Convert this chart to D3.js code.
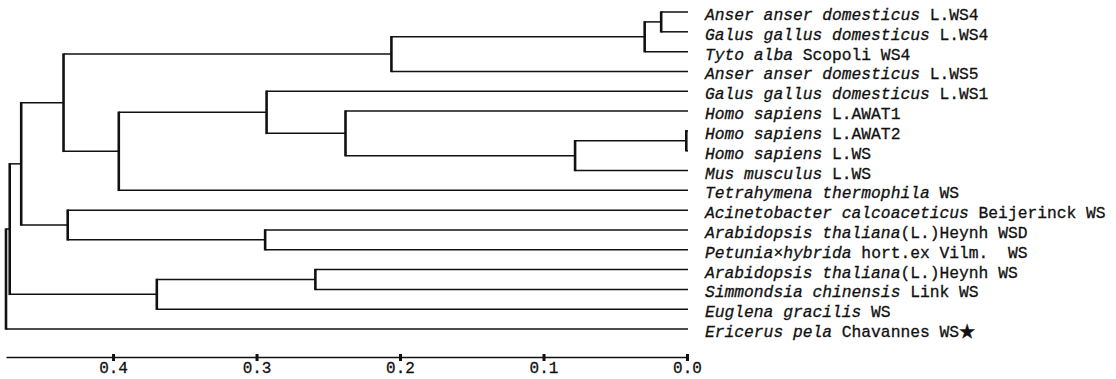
<!DOCTYPE html>
<html>
<head>
  <script src="https://d3js.org/d3.v7.min.js"></script>
  <style>
    body { margin: 0; background: #fff; }
    text { font-family: "Liberation Mono", "Noto Sans CJK SC", monospace; font-size: 16.3px; fill: #111; stroke: #111; stroke-width: 0.3px; white-space: pre; }
  </style>
</head>
<body>
  <script>
    // Leaf labels, top to bottom; _..._ marks the italic part
    const leafLabels = [
      "_Anser anser domesticus_ L.WS4",
      "_Galus gallus domesticus_ L.WS4",
      "_Tyto alba_ Scopoli WS4",
      "_Anser anser domesticus_ L.WS5",
      "_Galus gallus domesticus_ L.WS1",
      "_Homo sapiens_ L.AWAT1",
      "_Homo sapiens_ L.AWAT2",
      "_Homo sapiens_ L.WS",
      "_Mus musculus_ L.WS",
      "_Tetrahymena thermophila_ WS",
      "_Acinetobacter calcoaceticus_ Beijerinck WS",
      "_Arabidopsis thaliana_(L.)Heynh WSD",
      "_Petunia_×_hybrida_ hort.ex Vilm.  WS",
      "_Arabidopsis thaliana_(L.)Heynh WS",
      "_Simmondsia chinensis_ Link WS",
      "_Euglena gracilis_ WS",
      "_Ericerus pela_ Chavannes WS★"
    ];

    // Joins: [left, right, distance]; ids >= 17 point to earlier joins
    const joinLeft  = [0, 17, 18, 6, 20, 5, 4, 23, 19, 11, 10, 25, 13, 29, 28, 31];
    const joinRight = [1, 2, 3, 7, 8, 21, 22, 9, 24, 12, 26, 27, 14, 15, 30, 16];
    const joinDist  = [0.018, 0.0295, 0.206, 0.0005, 0.078, 0.238, 0.293, 0.396,
                       0.4345, 0.294, 0.4316, 0.464, 0.259, 0.3695, 0.472, 0.4746];

    const tickValues = [0.4, 0.3, 0.2, 0.1, 0.0];
    const tickLabels = ["0.4", "0.3", "0.2", "0.1", "0.0"];

    const width = 1116, height = 379;

    const svg = d3.select("body")
      .append("svg")
        .attr("width", width)
        .attr("height", height);

    const n = leafLabels.length;

    // Distance axis runs right to left
    const x = d3.scaleLinear()
      .domain([d3.max(joinDist), 0])
      .range([6, 687]);

    const y = d3.scaleLinear()
      .domain([0, n - 1])
      .range([12, 329]);

    // Build nodes: leaves first, then joins
    const nodes = leafLabels.map((d, i) => ({ h: 0, y: y(i) }));
    joinLeft.forEach((l, i) => {
      const a = nodes[l], b = nodes[joinRight[i]];
      nodes.push({ h: joinDist[i], y: (a.y + b.y) / 2, kids: [a, b] });
    });

    const tree = svg.append("g")
      .attr("stroke", "#111")
      .attr("fill", "none");

    nodes.filter(d => d.kids).forEach(d => {
      // Vertical connector
      tree.append("line")
        .attr("x1", x(d.h)).attr("x2", x(d.h))
        .attr("y1", d.kids[0].y - 0.75).attr("y2", d.kids[1].y + 0.75)
        .attr("stroke-width", 2.6);
      // Horizontal branches
      d.kids.forEach(k => {
        tree.append("line")
          .attr("x1", x(d.h)).attr("x2", x(k.h) + (k.kids ? 0 : 1))
          .attr("y1", k.y).attr("y2", k.y)
          .attr("stroke-width", 1.5);
      });
    });

    // Leaf labels with italic species names
    leafLabels.forEach((lab, i) => {
      const t = svg.append("text")
        .attr("x", 705)
        .attr("y", y(i) + 8);
      lab.split("_").forEach((part, j) => {
        if (!part) return;
        t.append("tspan")
          .attr("font-style", j % 2 === 1 ? "italic" : "normal")
          .text(part);
      });
    });

    // Bottom axis
    const axis = svg.append("g")
      .attr("transform", "translate(0,357)")
      .call(d3.axisBottom(x)
        .tickValues(tickValues)
        .tickFormat((d, i) => tickLabels[i])
        .tickSizeOuter(0)
        .tickSizeInner(0)
        .tickPadding(5));

    axis.select(".domain")
      .attr("stroke", "#111")
      .attr("stroke-width", 1.5);
    axis.selectAll(".tick line")
      .attr("y1", -3).attr("y2", 4)
      .attr("stroke", "#111")
      .attr("stroke-width", 3);
    axis.selectAll(".tick text")
      .attr("fill", "#111")
      .style("font-family", "'Liberation Mono', monospace")
      .style("font-size", "16px");
  </script>
</body>
</html>
